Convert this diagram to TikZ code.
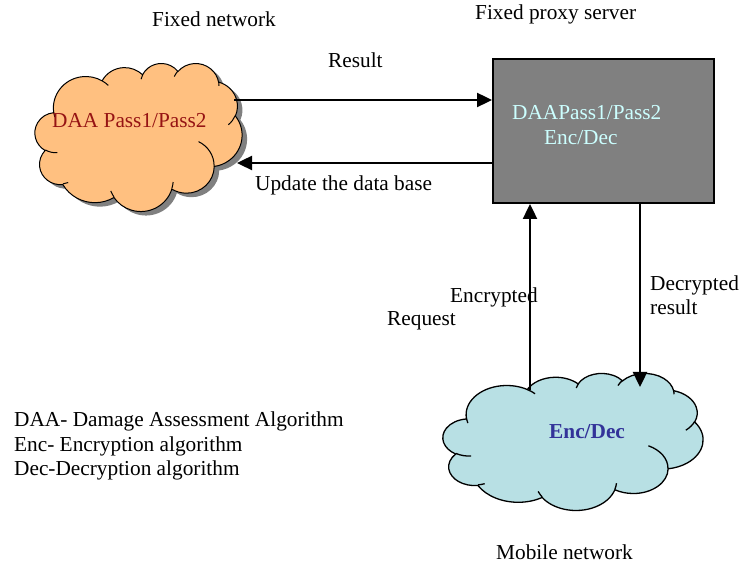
\documentclass[tikz,border=0pt]{standalone}
\usepackage{fontspec}
\setmainfont{Liberation Serif}
\usetikzlibrary{arrows.meta}
\definecolor{cloudorange}{RGB}{255,192,128}
\definecolor{cloudblue}{RGB}{184,224,228}
\definecolor{boxgray}{RGB}{128,128,128}
\definecolor{boxtext}{RGB}{204,255,255}
\definecolor{darkred}{RGB}{150,20,20}
\definecolor{navy}{RGB}{51,51,153}
\definecolor{shadowgray}{RGB}{128,128,128}
% parametric angle of the point seen at a given angle on an ellipse
\pgfmathdeclarefunction{cpar}{3}{%
  \begingroup\pgfmathparse{atan2(#1*sin(#3),#2*cos(#3))}\pgfmathsmuggle\pgfmathresult\endgroup}
\tikzset{
  lbl/.style={anchor=base west,inner sep=0pt,font=\fontsize{21.3}{25}\selectfont},
  arr/.style={line width=2.4pt,-{Triangle[length=15pt,width=14pt]}},
  carc/.style n args={4}{insert path={arc[x radius=#1,y radius=#2,
      start angle={cpar(#1,#2,#3)},
      delta angle={mod(cpar(#1,#2,#3+#4)-cpar(#1,#2,#3)+720,360)}]}},
  % cloud outline in a 432 x 432 box
  cloudpath/.style={insert path={(39.00,143.70)
      [carc={67.53}{91.90}{-190.4875}{123.7805}]
      [carc={53.33}{72.67}{-144.1024}{89.9452}]
      [carc={43.65}{59.45}{-145.8079}{99.7230}]
      [carc={48.57}{65.95}{-130.9861}{117.2417}]
      [carc={53.33}{72.73}{-78.7089}{109.0269}]
      [carc={67.75}{92.20}{-46.2673}{130.2690}]
      [carc={57.85}{78.67}{0.6250}{114.0333}]
      [carc={67.52}{92.15}{22.4516}{115.1726}]
      [carc={77.20}{105.43}{66.2426}{75.7110}]
      [carc={43.60}{59.18}{-274.9421}{146.7356}]
      [carc={43.45}{59.45}{-246.8285}{152.5189}] -- cycle}},
  % small creases inside the cloud
  cloudinner/.style={insert path={
      (46.93,261.77) [carc={43.45}{59.45}{86.7420}{26.4295}]
      (69.28,348.99) [carc={43.60}{59.18}{73.6105}{11.4475}]
      (164.78,390.90) [carc={67.52}{92.15}{137.6242}{14.0811}]
      (288.27,347.51) [carc={67.52}{92.15}{6.4533}{15.9984}]
      (341.29,229.54) [carc={57.85}{78.67}{-70.2924}{70.9174}]
      (417.98,153.54) [carc={53.33}{72.73}{30.3180}{27.7515}]
      (383.24,54.26) [carc={48.57}{65.95}{-13.7443}{14.8589}]
      (290.78,39.52) [carc={48.57}{65.95}{-149.1815}{18.1954}]
      (221.41,47.20) [carc={43.65}{59.45}{-163.4943}{17.6864}]
      (140.00,51.92) [carc={67.53}{91.90}{-66.7070}{12.3194}]
      (41.27,157.89) [carc={67.53}{91.90}{157.6544}{11.8582}]}}
}
\begin{document}
\begin{tikzpicture}[x=1pt,y=-1pt]
\useasboundingbox (0,0) rectangle (740,569);
\fill[white] (0,0) rectangle (740,569);

% headings
\node[lbl] (hfixed) at (152,27) {Fixed network};
\node[lbl] (hproxy) at (475,20) {Fixed proxy server};
\node[lbl] (hmobile) at (496,560) {Mobile network};

% fixed network cloud with its drop shadow
\begin{scope}[shift={(40,67)},x=0.47917pt,y=-0.34259pt]
  \path[fill=shadowgray] [cloudpath];
\end{scope}
\begin{scope}[shift={(35,63)},x=0.47917pt,y=-0.34259pt]
  \path[fill=cloudorange,draw=black,line width=1pt] [cloudpath];
  \path[draw=black,line width=1pt] [cloudinner];
\end{scope}
\node[lbl,text=darkred] (fixedtxt) at (52,128) {DAA Pass1/Pass2};

% proxy server box
\node[draw=black,line width=2pt,fill=boxgray,minimum width=221pt,minimum height=144pt,inner sep=0pt] (proxy) at (603.5,131) {};
\node[lbl,text=boxtext] (proxytxt1) at (512,120) {DAAPass1/Pass2};
\node[lbl,text=boxtext] (proxytxt2) at (544,145) {Enc/Dec};

% mobile network cloud
\begin{scope}[shift={(443,373)},x=0.60185pt,y=-0.31713pt]
  \path[fill=cloudblue,draw=black,line width=1.3pt] [cloudpath];
  \path[draw=black,line width=1.3pt] [cloudinner];
\end{scope}
\node[lbl,text=navy,font=\fontsize{21.3}{25}\selectfont\bfseries] (mobiletxt) at (549,439) {Enc/Dec};

% connector end points on the clouds
\coordinate (resstart) at (234,100);
\coordinate (updend) at (237,163);
\coordinate (reqstart) at (530,390);
\coordinate (decend) at (640,387);

% connectors
\draw[arr] (resstart) -- (resstart -| proxy.west);
\draw[arr] (updend -| proxy.west) -- (updend);
\draw[arr] (reqstart) -- (reqstart |- proxy.south);
\draw[arr] (decend |- proxy.south) -- (decend);

% connector labels
\node[lbl] (lresult) at (328,68) {Result};
\node[lbl] (lupdate) at (255,191) {Update the data base};
\node[lbl] (lenc) at (450,303) {Encrypted};
\node[lbl] (lreq) at (387,326) {Request};
\node[lbl] (ldec) at (650,291) {Decrypted};
\node[lbl] (lres) at (650,315) {result};

% legend
\node[lbl] (leg1) at (14,427) {DAA- Damage Assessment Algorithm};
\node[lbl] (leg2) at (14,452) {Enc- Encryption algorithm};
\node[lbl] (leg3) at (14,476) {Dec-Decryption algorithm};
\end{tikzpicture}
\end{document}
